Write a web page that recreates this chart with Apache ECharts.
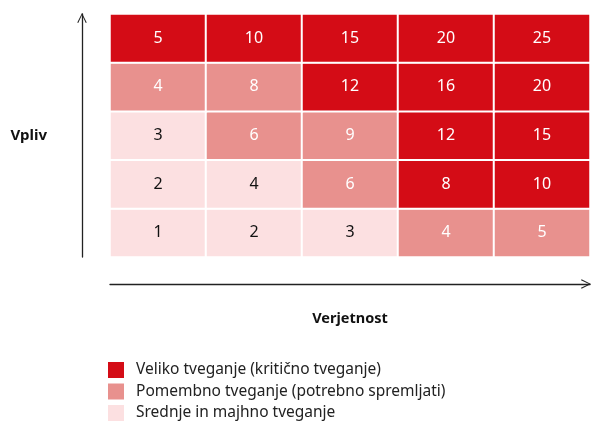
<!DOCTYPE html>
<html>
<head>
<meta charset="utf-8">
<script src="https://cdn.jsdelivr.net/npm/echarts@6/dist/echarts.min.js"></script>
<style>
  html, body { margin: 0; padding: 0; background: #fff; }
  #main { width: 591px; height: 423px; }
</style>
</head>
<body>
<div id="main"></div>
<script>
// verjetnost (x) and vpliv (y) categories
const verjetnost = ["1", "2", "3", "4", "5"];
const vpliv = ["1", "2", "3", "4", "5"];

// cell values, row by row from the bottom (vpliv 1) to the top (vpliv 5)
const values = [
  [1, 2, 3, 4, 5],
  [2, 4, 6, 8, 10],
  [3, 6, 9, 12, 15],
  [4, 8, 12, 16, 20],
  [5, 10, 15, 20, 25],
];

// risk level of each cell: 3 = veliko, 2 = pomembno, 1 = srednje/majhno
const levels = [
  [1, 1, 1, 2, 2],
  [1, 1, 2, 3, 3],
  [1, 2, 2, 3, 3],
  [2, 2, 3, 3, 3],
  [3, 3, 3, 3, 3],
];

const levelNames = [
  "Veliko tveganje (kritično tveganje)",
  "Pomembno tveganje (potrebno spremljati)",
  "Srednje in majhno tveganje",
];
const levelColors = ["#d40c16", "#e8918e", "#fce0e1"];

const font = "Noto Sans";

const cells = [];
values.forEach((row, yi) => {
  row.forEach((v, xi) => {
    const lv = levels[yi][xi];
    cells.push({
      value: [xi, yi, v, lv],
      label: { color: lv === 1 ? "#111" : "#fff" },
    });
  });
});

// open chevron used as arrow head on the axis lines
const chevron = "path://M0,12 L6,0 L12,12 L10.8,12.7 L6,2.6 L1.2,12.7 Z";

const myChart = echarts.init(document.getElementById("main"));
myChart.setOption({
  animation: false,
  textStyle: { fontFamily: font },
  grid: {
    left: 110,
    right: 1,
    top: 14,
    bottom: 166,
  },
  xAxis: {
    type: "category",
    data: verjetnost,
    offset: 27,
    name: "Verjetnost",
    nameLocation: "middle",
    nameGap: 27,
    nameTextStyle: { fontWeight: "bold", fontSize: 14.5, color: "#111", fontFamily: font },
    axisLine: {
      show: true,
      symbol: ["none", chevron],
      symbolSize: [18, 10],
      symbolOffset: [0, -4],
      lineStyle: { color: "#222", width: 1.3 },
    },
    axisTick: { show: false },
    axisLabel: { show: false },
    splitLine: { show: false },
  },
  yAxis: {
    type: "category",
    data: vpliv,
    offset: 28,
    name: "Vpliv",
    nameLocation: "middle",
    nameRotate: 0,
    nameGap: 35,
    nameTextStyle: { fontWeight: "bold", fontSize: 15, color: "#111", fontFamily: font, align: "right" },
    axisLine: {
      show: true,
      symbol: ["none", chevron],
      symbolSize: [18, 10],
      symbolOffset: [0, -4],
      lineStyle: { color: "#222", width: 1.3 },
    },
    axisTick: { show: false },
    axisLabel: { show: false },
    splitLine: { show: false },
  },
  visualMap: {
    type: "piecewise",
    dimension: 3,
    orient: "vertical",
    inverse: false,
    left: 108,
    top: 362,
    padding: 0,
    itemWidth: 16,
    itemHeight: 16,
    itemGap: 5.5,
    itemSymbol: "rect",
    textGap: 12,
    selectedMode: false,
    textStyle: { fontSize: 15.5, color: "#222", fontFamily: font },
    pieces: [
      { value: 3, label: levelNames[0], color: levelColors[0] },
      { value: 2, label: levelNames[1], color: levelColors[1] },
      { value: 1, label: levelNames[2], color: levelColors[2] },
    ],
  },
  series: [
    {
      type: "heatmap",
      data: cells,
      encode: { x: 0, y: 1, value: 2 },
      itemStyle: { borderColor: "#fff", borderWidth: 2 },
      label: {
        show: true,
        fontSize: 16,
        fontFamily: font,
        formatter: (p) => p.value[2],
      },
      emphasis: { disabled: true },
    },
  ],
});
</script>
</body>
</html>
